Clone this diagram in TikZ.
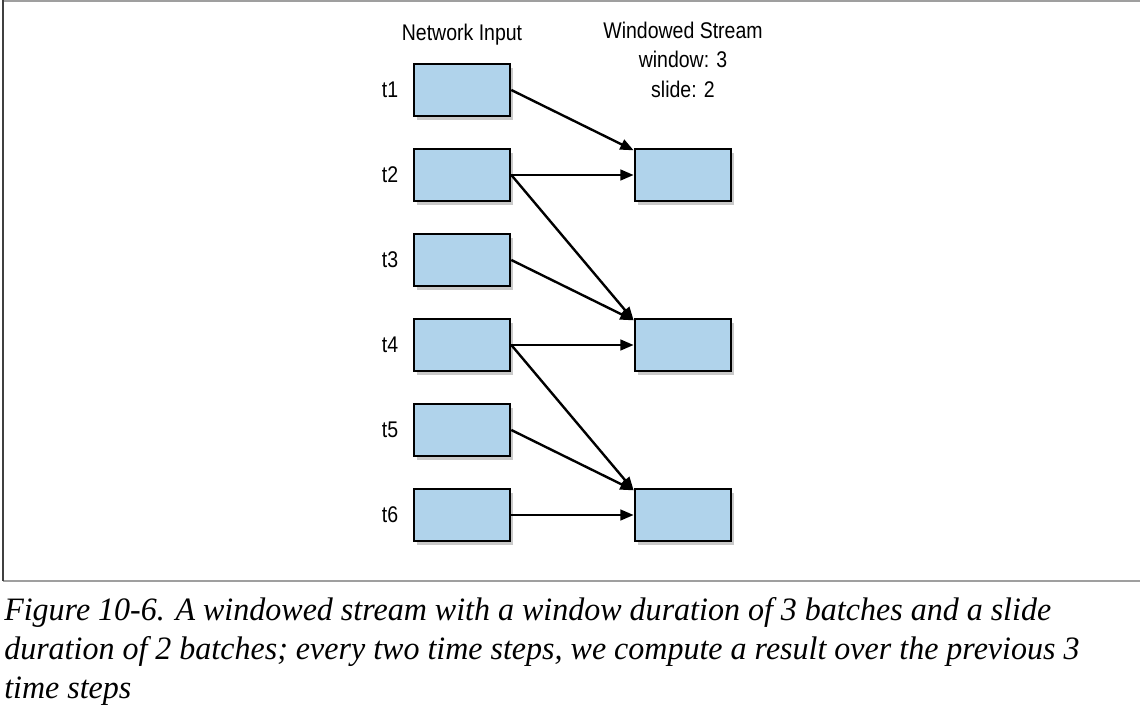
\documentclass[tikz,border=0pt]{standalone}
\usepackage{fontspec}
\setmainfont{Liberation Serif}
\newfontfamily\labfont[FakeStretch=0.86]{Liberation Sans}
\newfontfamily\capfont[FakeStretch=0.98]{Liberation Serif}
\usetikzlibrary{arrows.meta,shadows}
\definecolor{boxblue}{HTML}{B0D3EB}
\begin{document}
\begin{tikzpicture}[x=0.75pt,y=-0.75pt,
  batch/.style={draw=black,line width=2pt,fill=boxblue,minimum width=72pt,minimum height=39pt,inner sep=0pt,
    drop shadow={shadow xshift=2.5pt,shadow yshift=-3pt,opacity=0.3,fill=black!70}},
  lab/.style={font=\labfont\fontsize{17}{21.8}\selectfont,inner sep=0pt,align=center},
  flow/.style={line width=1.8pt,-{Triangle[length=10pt,width=8pt]}}]
\useasboundingbox (0,0) rectangle (1140,718);
\draw[gray!75,line width=1.5pt] (3,1) -- (1142,1);
\draw[gray!75,line width=1.5pt] (3,581) -- (1142,581);
\draw[black!75,line width=1.5pt] (3,0) -- (3,581);
\node[lab,anchor=base] (h1) at (462,40) {Network Input};
\node[lab,anchor=base] (h2) at (683,97) {Windowed Stream\\window: 3\\slide: 2};
\foreach \i/\y in {1/90,2/175,3/260,4/345,5/430,6/515}{
  \node[batch] (t\i) at (462,\y) {};
  \node[lab] (l\i) at (390,\y) {t\i};
}
\node[batch] (r1) at (683,175) {};
\node[batch] (r2) at (683,345) {};
\node[batch] (r3) at (683,515) {};
\draw[flow] (t1.east) -- ([yshift=-2pt]r1.north west);
\draw[flow] (t2.east) -- (r1.west);
\draw[flow] (t2.east) -- ([yshift=-2pt]r2.north west);
\draw[flow] (t3.east) -- ([yshift=-2pt]r2.north west);
\draw[flow] (t4.east) -- (r2.west);
\draw[flow] (t4.east) -- ([yshift=-2pt]r3.north west);
\draw[flow] (t5.east) -- ([yshift=-2pt]r3.north west);
\draw[flow] (t6.east) -- (r3.west);
\node[anchor=base west,inner sep=0pt,align=left,font=\capfont\itshape\fontsize{24.5}{29}\selectfont] (cap) at (4,698)
 {Figure 10-6. A windowed stream with a window duration of 3 batches and a slide\\
  duration of 2 batches; every two time steps, we compute a result over the previous 3\\
  time steps};
\end{tikzpicture}
\end{document}
